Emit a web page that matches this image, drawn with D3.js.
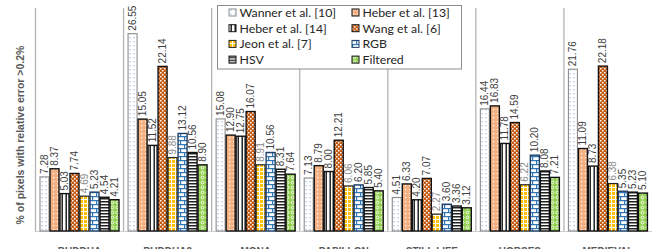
<!DOCTYPE html>
<html><head><meta charset="utf-8">
<script src="https://cdn.jsdelivr.net/npm/d3@7"></script>
<style>html,body{margin:0;padding:0;background:#fff;}svg{display:block;}</style>
</head><body>
<script>
const categories = ["BUDDHA","BUDDHA2","MONA","PAPILLON","STILL LIFE","HORSES","MEDIEVAL"];
const seriesNames = ["Wanner et al. [10]","Heber et al. [13]","Heber et al. [14]","Wang et al. [6]","Jeon et al. [7]","RGB","HSV","Filtered"];
const wanner   = [7.28, 26.55, 15.08, 7.13, 4.51, 16.44, 21.76];
const heber13  = [8.37, 15.05, 12.90, 8.79, 6.33, 16.83, 11.09];
const heber14  = [5.03, 11.52, 12.75, 8.00, 4.20, 11.78, 8.73];
const wang     = [7.74, 22.14, 16.07, 12.21, 7.07, 14.59, 22.18];
const jeon     = [4.69, 9.88, 8.91, 6.06, 2.27, 6.22, 6.38];
const rgb      = [5.23, 13.12, 10.56, 6.20, 3.60, 10.20, 5.35];
const hsv      = [4.54, 10.56, 8.31, 5.85, 3.36, 8.08, 5.23];
const filtered = [4.21, 8.90, 7.64, 5.40, 3.12, 7.21, 5.10];
const yTitle = "% of pixels with relative error >0.2%";

const seriesValues = [wanner, heber13, heber14, wang, jeon, rgb, hsv, filtered];
const W = 652, H = 249;
const svg = d3.select("body").append("svg").attr("width", W).attr("height", H);
const defs = svg.append("defs");

function pat(id, w, h, bg, draw) {
  const p = defs.append("pattern").attr("id", id).attr("patternUnits", "userSpaceOnUse")
    .attr("width", w).attr("height", h);
  p.append("rect").attr("width", w).attr("height", h).attr("fill", bg);
  draw(p);
}
pat("p0", 4, 4, "#fff", p => p.append("rect").attr("x", 1.5).attr("y", 1).attr("width", 1.1).attr("height", 1.3).attr("fill", "#8fb8e0"));
pat("p1", 4, 4, "#f4b183", p => { p.append("rect").attr("x", 1).attr("y", 1).attr("width", 1.2).attr("height", 1.2).attr("fill", "#fff"); });
pat("p2", 4, 4, "#fff", p => p.append("rect").attr("x", 1.5).attr("y", 0).attr("width", 1.4).attr("height", 4).attr("fill", "#111"));
pat("p3", 4, 4, "#c55a11", p => { p.append("rect").attr("x", 0).attr("y", 0).attr("width", 1.5).attr("height", 1.5).attr("fill", "#fff"); p.append("rect").attr("x", 2).attr("y", 2).attr("width", 1.5).attr("height", 1.5).attr("fill", "#fff"); });
pat("p4", 4, 4, "#ffc000", p => { p.append("rect").attr("x", 3).attr("y", 0).attr("width", 1).attr("height", 4).attr("fill", "#fff"); p.append("rect").attr("x", 0).attr("y", 3).attr("width", 4).attr("height", 1).attr("fill", "#fff"); });
pat("p5", 8, 8, "#fff", p => {
  p.append("rect").attr("x", 0).attr("y", 0).attr("width", 8).attr("height", 1.2).attr("fill", "#2e75b6");
  p.append("rect").attr("x", 0).attr("y", 4).attr("width", 8).attr("height", 1.2).attr("fill", "#2e75b6");
  p.append("rect").attr("x", 0).attr("y", 0).attr("width", 1.2).attr("height", 4).attr("fill", "#2e75b6");
  p.append("rect").attr("x", 4).attr("y", 4).attr("width", 1.2).attr("height", 4).attr("fill", "#2e75b6");
});
pat("p6", 3, 3, "#fff", p => p.append("rect").attr("x", 0).attr("y", 0).attr("width", 3).attr("height", 1.5).attr("fill", "#222"));
pat("p7", 5, 5, "#92d050", p => p.append("circle").attr("cx", 2.5).attr("cy", 2.5).attr("r", 1.4).attr("fill", "none").attr("stroke", "#fff").attr("stroke-width", 0.9));

const strokes = ["#8c8c8c", "#111", "#111", "#111", "#222", "#1f3f66", "#111", "#111"];
const strokeW = [1.1, 1.4, 1.4, 1.4, 1.2, 1.4, 1.4, 1.4];
const labelColors = ["#404040","#404040","#404040","#404040","#8a8a8a","#404040","#404040","#404040"];

const x0 = d3.scaleBand().domain(categories).range([35.5, 652]).padding(0);
const x1 = d3.scaleBand().domain(d3.range(seriesNames.length)).range([4, 84]).padding(0);
const y = d3.scaleLinear().domain([0, 30]).range([231, 8]);

// separators
svg.append("g").selectAll("line").data(categories).join("line")
  .attr("x1", d => x0(d)).attr("x2", d => x0(d)).attr("y1", y(30)).attr("y2", y(0) + 1)
  .attr("stroke", "#b4b4b4").attr("stroke-width", 1.3);
svg.append("line").attr("x1", 35.5).attr("x2", 652).attr("y1", y(0) + 0.5).attr("y2", y(0) + 0.5)
  .attr("stroke", "#d0d0d0").attr("stroke-width", 1);

const rows = [];
categories.forEach((c, ci) => seriesValues.forEach((vals, si) => rows.push({c, si, v: vals[ci]})));

const g = svg.append("g");
g.selectAll("rect").data(rows).join("rect")
  .attr("x", d => x0(d.c) + x1(d.si) + 0.5)
  .attr("width", x1.bandwidth() - 1)
  .attr("y", d => y(d.v))
  .attr("height", d => y(0) - y(d.v))
  .attr("fill", d => `url(#p${d.si})`)
  .attr("stroke", d => strokes[d.si])
  .attr("stroke-width", d => strokeW[d.si]);

g.selectAll("text").data(rows).join("text")
  .attr("transform", d => `translate(${x0(d.c) + x1(d.si) + x1.bandwidth() / 2 + 3.5},${y(d.v) - 3}) rotate(-90)`)
  .attr("font-family", "Liberation Sans, Arial, sans-serif")
  .attr("font-size", 10)
  .attr("fill", d => labelColors[d.si])
  .text(d => d.v.toFixed(2));

// category labels
svg.append("g").selectAll("text").data(categories).join("text")
  .attr("x", d => x0(d) + x0.bandwidth() / 2).attr("y", 254.5)
  .attr("text-anchor", "middle")
  .attr("font-family", "Liberation Sans, Arial, sans-serif")
  .attr("font-size", 10).attr("font-weight", "bold").attr("fill", "#595959")
  .text(d => d);

// y title
svg.append("text")
  .attr("transform", `translate(23.5,135) rotate(-90)`)
  .attr("text-anchor", "middle")
  .attr("font-family", "Liberation Sans, Arial, sans-serif")
  .attr("font-size", 10.5).attr("font-weight", "bold").attr("fill", "#595959")
  .text(yTitle);

// legend
const lg = svg.append("g");
lg.append("rect").attr("x", 217.5).attr("y", 5.5).attr("width", 244).attr("height", 63.5)
  .attr("fill", "#fff").attr("stroke", "#8c8c8c").attr("stroke-width", 1);
const items = lg.selectAll("g").data(seriesNames).join("g")
  .attr("transform", (d, i) => `translate(${i % 2 === 0 ? 229 : 352},${12.5 + Math.floor(i / 2) * 15.7})`);
items.append("rect").attr("x", 0).attr("y", -3.5).attr("width", 7).attr("height", 7)
  .attr("fill", (d, i) => `url(#p${i})`).attr("stroke", (d, i) => strokes[i]).attr("stroke-width", 1);
items.append("text").attr("x", 10.5).attr("y", 4.3)
  .attr("font-family", "Lato, Carlito, sans-serif").attr("font-size", 12.3).attr("fill", "#262626")
  .text(d => d);
</script>
</body></html>
